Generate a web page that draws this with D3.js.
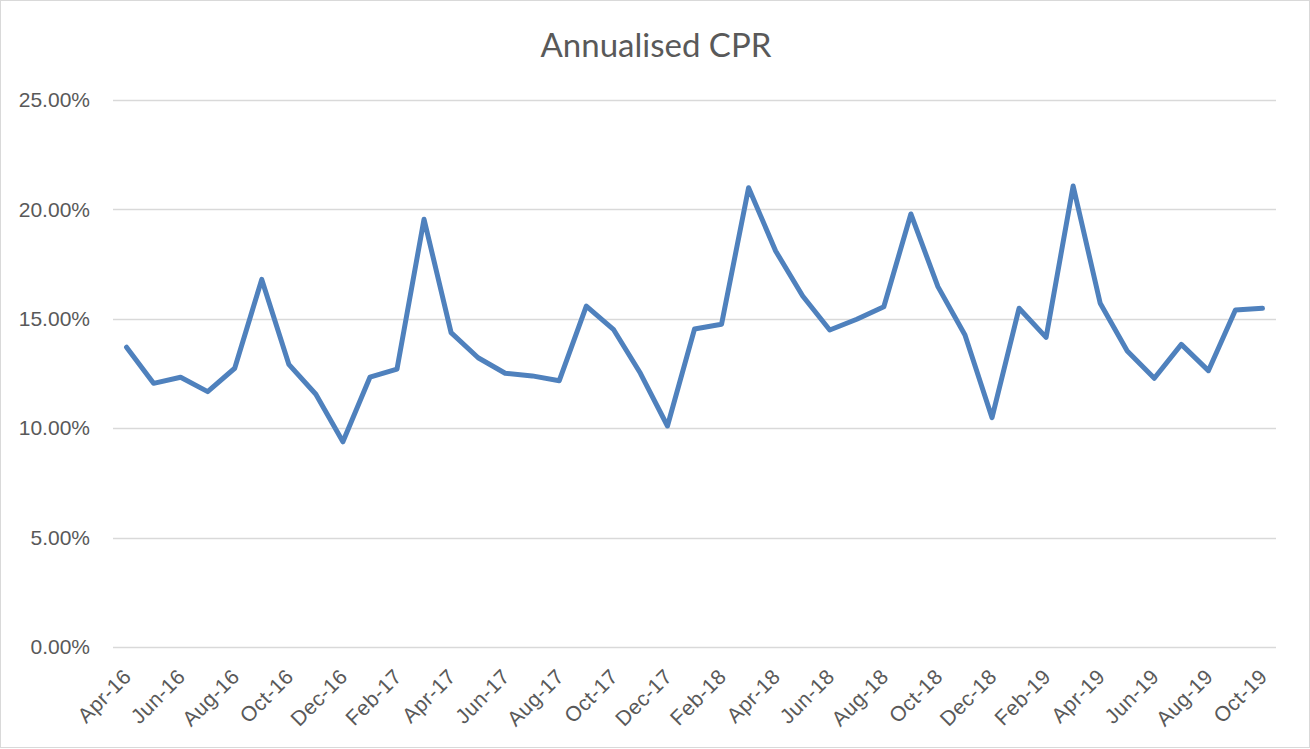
<!DOCTYPE html>
<html>
<head>
<meta charset="utf-8">
<script src="https://cdn.jsdelivr.net/npm/d3@7"></script>
<style>
  body { margin: 0; background: #fff; }
  svg { display: block; font-family: Lato, "Open Sans", sans-serif; }
</style>
</head>
<body>
<div id="chart"></div>
<script>
// monthly categories Apr-16 .. Oct-19
const months = ["Apr-16","May-16","Jun-16","Jul-16","Aug-16","Sep-16","Oct-16","Nov-16","Dec-16",
  "Jan-17","Feb-17","Mar-17","Apr-17","May-17","Jun-17","Jul-17","Aug-17","Sep-17","Oct-17","Nov-17","Dec-17",
  "Jan-18","Feb-18","Mar-18","Apr-18","May-18","Jun-18","Jul-18","Aug-18","Sep-18","Oct-18","Nov-18","Dec-18",
  "Jan-19","Feb-19","Mar-19","Apr-19","May-19","Jun-19","Jul-19","Aug-19","Sep-19","Oct-19"];

const cpr = [0.1370,0.1205,0.1233,0.1167,0.1274,0.1680,0.1292,0.1155,0.0938,
  0.1233,0.1270,0.1955,0.1437,0.1322,0.1251,0.1239,0.1217,0.1558,0.1452,0.1251,0.1010,
  0.1453,0.1475,0.2099,0.1810,0.1604,0.1449,0.1498,0.1555,0.1979,0.1647,0.1426,0.1048,
  0.1548,0.1415,0.2107,0.1571,0.1353,0.1228,0.1383,0.1263,0.1540,0.1548];

const yTicks = [0, 0.05, 0.10, 0.15, 0.20, 0.25];

const W = 1310, H = 749;
const margin = { top: 100, right: 34, bottom: 102, left: 113 };
const width = W - margin.left - margin.right;
const height = H - margin.top - margin.bottom;

const svg = d3.select("#chart").append("svg")
    .attr("width", W)
    .attr("height", H);

// outer chart border
svg.append("rect")
    .attr("x", 0.5).attr("y", 0.5)
    .attr("width", W - 1).attr("height", H - 2)
    .attr("fill", "#fff")
    .attr("stroke", "#d9d9d9");

svg.append("text")
    .attr("x", 656).attr("y", 57)
    .attr("text-anchor", "middle")
    .attr("fill", "#595959")
    .style("font-size", "33px")
    .text("Annualised CPR");

const g = svg.append("g")
    .attr("transform", `translate(${margin.left},${margin.top})`);

const x = d3.scaleBand().domain(months).range([0, width]);
const y = d3.scaleLinear().domain([0, 0.25]).range([height, 0]);

// gridlines
g.append("g")
    .selectAll("line")
    .data(yTicks)
    .enter().append("line")
    .attr("x1", 0).attr("x2", width)
    .attr("y1", d => Math.round(y(d)) + 0.5)
    .attr("y2", d => Math.round(y(d)) + 0.5)
    .attr("stroke", "#d9d9d9")
    .attr("stroke-width", 1.3);

// y axis labels
const yAxis = d3.axisLeft(y).tickValues(yTicks).tickFormat(d3.format(".2%")).tickSize(0).tickPadding(23);
g.append("g").call(yAxis)
    .call(a => a.select(".domain").remove())
    .selectAll("text")
    .attr("fill", "#595959")
    .style("font-size", "21px");

// x axis labels, rotated
const xLabels = months.filter((d, i) => i % 2 === 0);
const xAxis = d3.axisBottom(x).tickValues(xLabels).tickSize(0).tickPadding(0);
g.append("g")
    .attr("transform", `translate(0,${height})`)
    .call(xAxis)
    .call(a => a.select(".domain").remove())
    .selectAll("text")
    .attr("fill", "#595959")
    .style("font-size", "21px")
    .style("letter-spacing", "0.4px")
    .attr("text-anchor", "end")
    .attr("dy", "0")
    .attr("transform", "translate(6,31) rotate(-45)");

const line = d3.line()
    .x((d, i) => x(months[i]) + x.bandwidth() / 2)
    .y(d => y(d));

g.append("path")
    .datum(cpr)
    .attr("d", line)
    .attr("fill", "none")
    .attr("stroke", "#4f81bd")
    .attr("stroke-width", 5)
    .attr("stroke-linejoin", "round")
    .attr("stroke-linecap", "round");
</script>
</body>
</html>
